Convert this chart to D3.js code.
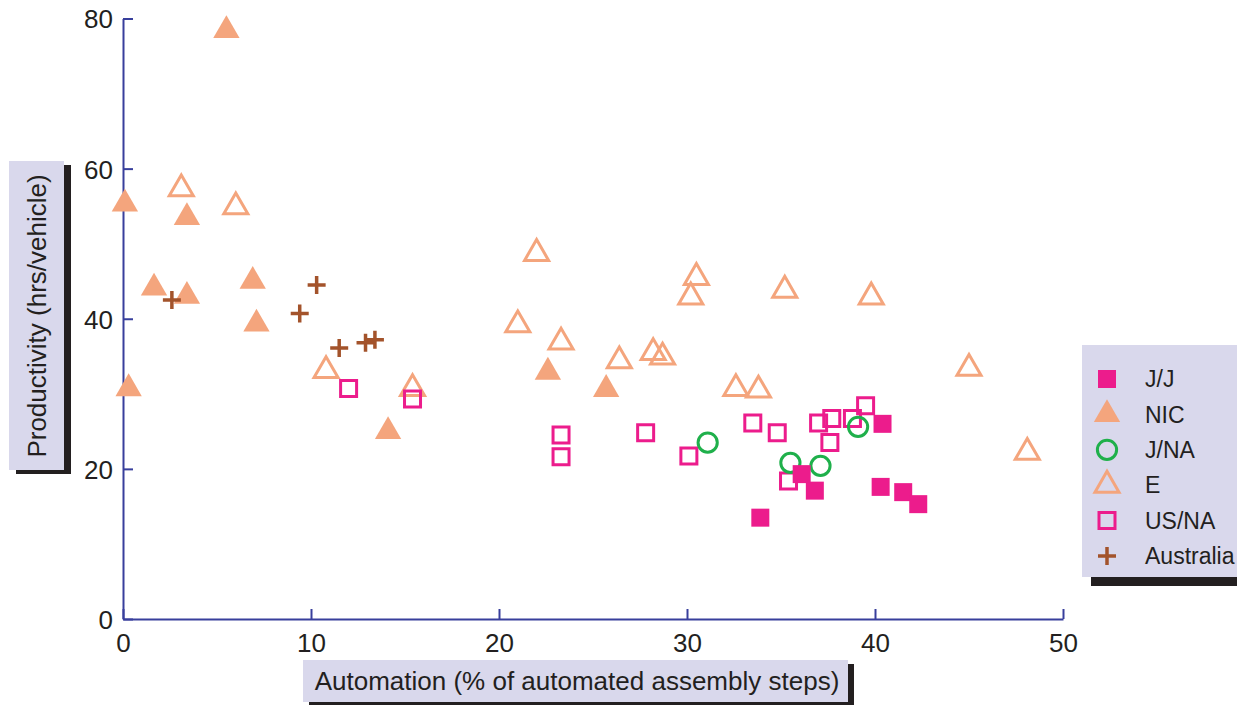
<!DOCTYPE html>
<html>
<head>
<meta charset="utf-8">
<script src="https://cdn.jsdelivr.net/npm/d3@7"></script>
<style>
  body { margin: 0; background: #fff; }
  svg { display: block; font-family: "Liberation Sans", Arial, sans-serif; }
</style>
</head>
<body>
<svg id="chart" width="1237" height="705"></svg>
<script>
// series, values [automation %, hrs/vehicle]
const jj = [[40.4, 26.0], [36.1, 19.3], [36.8, 17.1], [40.3, 17.6], [41.5, 16.9], [42.3, 15.3], [33.9, 13.5]];
const nic = [[5.5, 78.4], [0.1, 55.3], [3.4, 53.5], [1.65, 44.1], [3.4, 43.0], [6.9, 45.0], [7.1, 39.3],
             [0.3, 30.7], [14.1, 25.0], [22.6, 32.9], [25.7, 30.6]];
const jna = [[31.1, 23.5], [35.5, 20.8], [37.1, 20.4], [39.1, 25.6]];
const e = [[3.1, 57.3], [6.0, 54.9], [10.8, 33.1], [15.4, 30.7], [22.0, 48.7], [30.5, 45.5], [30.2, 42.9],
           [35.2, 43.8], [21.0, 39.2], [23.3, 36.9], [26.4, 34.4], [28.2, 35.5], [28.7, 34.9], [32.6, 30.7],
           [33.8, 30.5], [39.8, 42.9], [45.0, 33.4], [48.1, 22.2]];
const usna = [[12.0, 30.7], [15.4, 29.3], [23.3, 24.5], [23.3, 21.6], [27.8, 24.8], [30.1, 21.7], [33.5, 26.1],
              [34.8, 24.8], [37.0, 26.1], [37.7, 26.7], [38.8, 26.7], [39.5, 28.4], [37.6, 23.5], [35.4, 18.4]];
const australia = [[2.6, 42.5], [10.3, 44.5], [9.4, 40.7], [11.5, 36.1], [12.9, 36.8], [13.4, 37.2]];

const legendNames = ["J/J", "NIC", "J/NA", "E", "US/NA", "Australia"];
const xTicks = [0, 10, 20, 30, 40, 50];
const yTicks = [0, 20, 40, 60, 80];

const magenta = "#ec1c8c", salmon = "#f4a57d", green = "#1fb04b", brown = "#a3532b";
const axisColor = "#383f9c", ink = "#231f20", boxFill = "#d9d8ec";

const svg = d3.select("#chart");

var x = d3.scaleLinear().domain([0, 50]).range([123, 1063]);
var y = d3.scaleLinear().domain([0, 80]).range([619, 18.5]);

// axes, ticks point inward
var xAxis = svg.append("g")
  .attr("transform", "translate(0,619)")
  .call(d3.axisBottom(x).tickValues(xTicks).tickSizeInner(-10).tickSizeOuter(0).tickPadding(15));
var yAxis = svg.append("g")
  .attr("transform", "translate(123,0)")
  .call(d3.axisLeft(y).tickValues(yTicks).tickSizeInner(-10).tickSizeOuter(0).tickPadding(10));

[xAxis, yAxis].forEach(function(g) {
  g.select(".domain").attr("stroke", axisColor).attr("stroke-width", 2);
  g.selectAll(".tick line").attr("stroke", axisColor).attr("stroke-width", 2);
  g.selectAll(".tick text").attr("fill", ink).attr("font-size", 26)
    .attr("font-family", "Liberation Sans, Arial, sans-serif");
});
yAxis.selectAll(".tick text").attr("dy", "0.36em");

// label boxes with dark shadow
function box(x0, y0, w, h, dx, dy) {
  svg.append("rect").attr("x", x0 + dx).attr("y", y0 + dy).attr("width", w).attr("height", h).attr("fill", ink);
  svg.append("rect").attr("x", x0).attr("y", y0).attr("width", w).attr("height", h).attr("fill", boxFill);
}

box(9, 161, 55, 309, 7, 4);
svg.append("text")
  .attr("transform", "translate(46,316) rotate(-90)")
  .attr("text-anchor", "middle")
  .attr("font-size", 26).attr("fill", ink)
  .text("Productivity (hrs/vehicle)");

box(303, 660, 545, 42, 6, 4);
svg.append("text")
  .attr("x", 577).attr("y", 690)
  .attr("text-anchor", "middle")
  .attr("font-size", 26).attr("fill", ink)
  .text("Automation (% of automated assembly steps)");

// marker styles
const styles = {
  "J/J":       { type: d3.symbolSquare,   size: 324, fill: magenta, stroke: "none", sw: 0 },
  "NIC":       { type: d3.symbolTriangle, size: 300, fill: salmon,  stroke: "none", sw: 0 },
  "J/NA":      { type: d3.symbolCircle,   size: 290, fill: "none",  stroke: green,  sw: 3 },
  "E":         { type: d3.symbolTriangle, size: 250, fill: "none",  stroke: salmon, sw: 3 },
  "US/NA":     { type: d3.symbolSquare,   size: 256, fill: "none",  stroke: magenta, sw: 3 },
  "Australia": { type: null, size: 18, fill: "none", stroke: brown, sw: 3.5 }
};

function drawMarks(g, st) {
  if (st.type) {
    g.append("path")
      .attr("d", d3.symbol().type(st.type).size(st.size)())
      .attr("fill", st.fill).attr("stroke", st.stroke).attr("stroke-width", st.sw);
  } else {
    var h = st.size / 2;
    g.append("path")
      .attr("d", "M" + (-h) + ",0H" + h + "M0," + (-h) + "V" + h)
      .attr("stroke", st.stroke).attr("stroke-width", st.sw);
  }
}

function plot(data, name) {
  var st = styles[name];
  svg.append("g").selectAll("g")
    .data(data)
    .enter().append("g")
    .attr("transform", function(d) { return "translate(" + x(d[0]) + "," + y(d[1]) + ")"; })
    .each(function() { drawMarks(d3.select(this), st); });
}

plot(e, "E");
plot(nic, "NIC");
plot(usna, "US/NA");
plot(jna, "J/NA");
plot(jj, "J/J");
plot(australia, "Australia");

// legend
box(1082, 345, 160, 232, 9, 9);
var leg = svg.append("g").selectAll("g")
  .data(legendNames)
  .enter().append("g")
  .attr("transform", function(d, i) { return "translate(1107," + (379 + i * 35.4) + ")"; });
leg.each(function(d) { drawMarks(d3.select(this), styles[d]); });
leg.append("text")
  .attr("x", 38).attr("dy", "0.36em")
  .attr("font-size", 23).attr("fill", ink)
  .text(function(d) { return d; });
</script>
</body>
</html>
